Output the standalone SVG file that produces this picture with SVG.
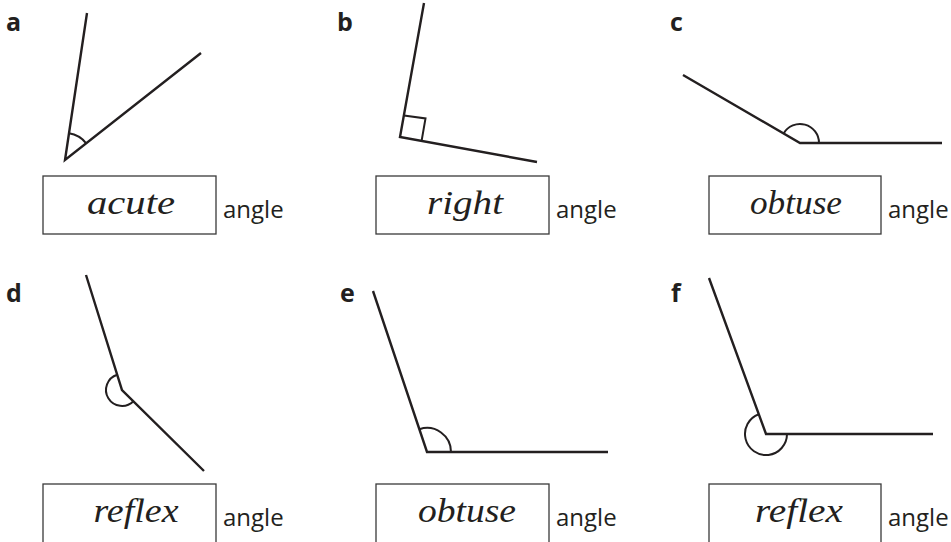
<svg xmlns="http://www.w3.org/2000/svg" width="951" height="542" viewBox="0 0 951 542">
<style>
.ln{stroke:#231f20;stroke-width:2.4;fill:none;stroke-linecap:butt}
.arc{stroke:#231f20;stroke-width:2;fill:none}
.box{stroke:#3a3a3a;stroke-width:1.3;fill:#fff}
.lbl{font-family:"Open Sans","Liberation Sans",sans-serif;font-weight:bold;font-size:25px;fill:#231f20}
.ang{font-family:"Open Sans","Liberation Sans",sans-serif;font-size:24px;fill:#231f20}
.ans{font-family:"Liberation Serif","DejaVu Serif",serif;font-style:italic;font-size:33px;fill:#231f20;text-anchor:middle}
</style>
<rect width="951" height="542" fill="#fff"/>
<g id="a">
<text class="lbl" x="6" y="31">a</text>
<path class="ln" d="M87,13 L65,160 L201,53"/>
<path class="arc" d="M69,133.3 A27,27 0 0 1 86.2,143.3"/>
<rect class="box" x="43" y="176" width="173" height="58"/>
<text class="ans" x="131" y="214" textLength="88" lengthAdjust="spacingAndGlyphs">acute</text>
<text class="ang" x="223" y="218">angle</text>
</g>
<g id="b">
<text class="lbl" x="337" y="31">b</text>
<path class="ln" d="M424,3 L400,137 L537,162"/>
<path class="arc" d="M403.9,115.4 L425.5,118.4 L421.6,140.9"/>
<rect class="box" x="376" y="176" width="173" height="58"/>
<text class="ans" x="465" y="214" textLength="76" lengthAdjust="spacingAndGlyphs">right</text>
<text class="ang" x="556" y="218">angle</text>
</g>
<g id="c">
<text class="lbl" x="670" y="31">c</text>
<path class="ln" d="M683,75 L800,143 L942,143"/>
<path class="arc" d="M783.6,133.4 A19,19 0 0 1 819,143"/>
<rect class="box" x="709" y="176" width="172" height="58"/>
<text class="ans" x="796" y="214" textLength="92" lengthAdjust="spacingAndGlyphs">obtuse</text>
<text class="ang" x="888" y="218">angle</text>
</g>
<g id="d">
<text class="lbl" x="6" y="302">d</text>
<path class="ln" d="M86,275 L122,390 L204,471"/>
<path class="arc" d="M117.2,374.7 A16,16 0 1 0 133.4,401.2"/>
<rect class="box" x="43" y="484" width="173" height="60"/>
<text class="ans" x="136" y="522" textLength="85" lengthAdjust="spacingAndGlyphs">reflex</text>
<text class="ang" x="223" y="526">angle</text>
</g>
<g id="e">
<text class="lbl" x="340" y="302">e</text>
<path class="ln" d="M373,291 L427,452 L608,452"/>
<path class="arc" d="M419.4,429.2 A24,24 0 0 1 451,452"/>
<rect class="box" x="376" y="484" width="173" height="60"/>
<text class="ans" x="467" y="522" textLength="98" lengthAdjust="spacingAndGlyphs">obtuse</text>
<text class="ang" x="556" y="526">angle</text>
</g>
<g id="f">
<text class="lbl" x="671" y="302">f</text>
<path class="ln" d="M709,278 L766,434 L933,434"/>
<path class="arc" d="M758.8,414.3 A21,21 0 1 0 787,434"/>
<rect class="box" x="709" y="484" width="172" height="60"/>
<text class="ans" x="799" y="522" textLength="88" lengthAdjust="spacingAndGlyphs">reflex</text>
<text class="ang" x="888" y="526">angle</text>
</g>
<g id="connectors"></g>
</svg>
